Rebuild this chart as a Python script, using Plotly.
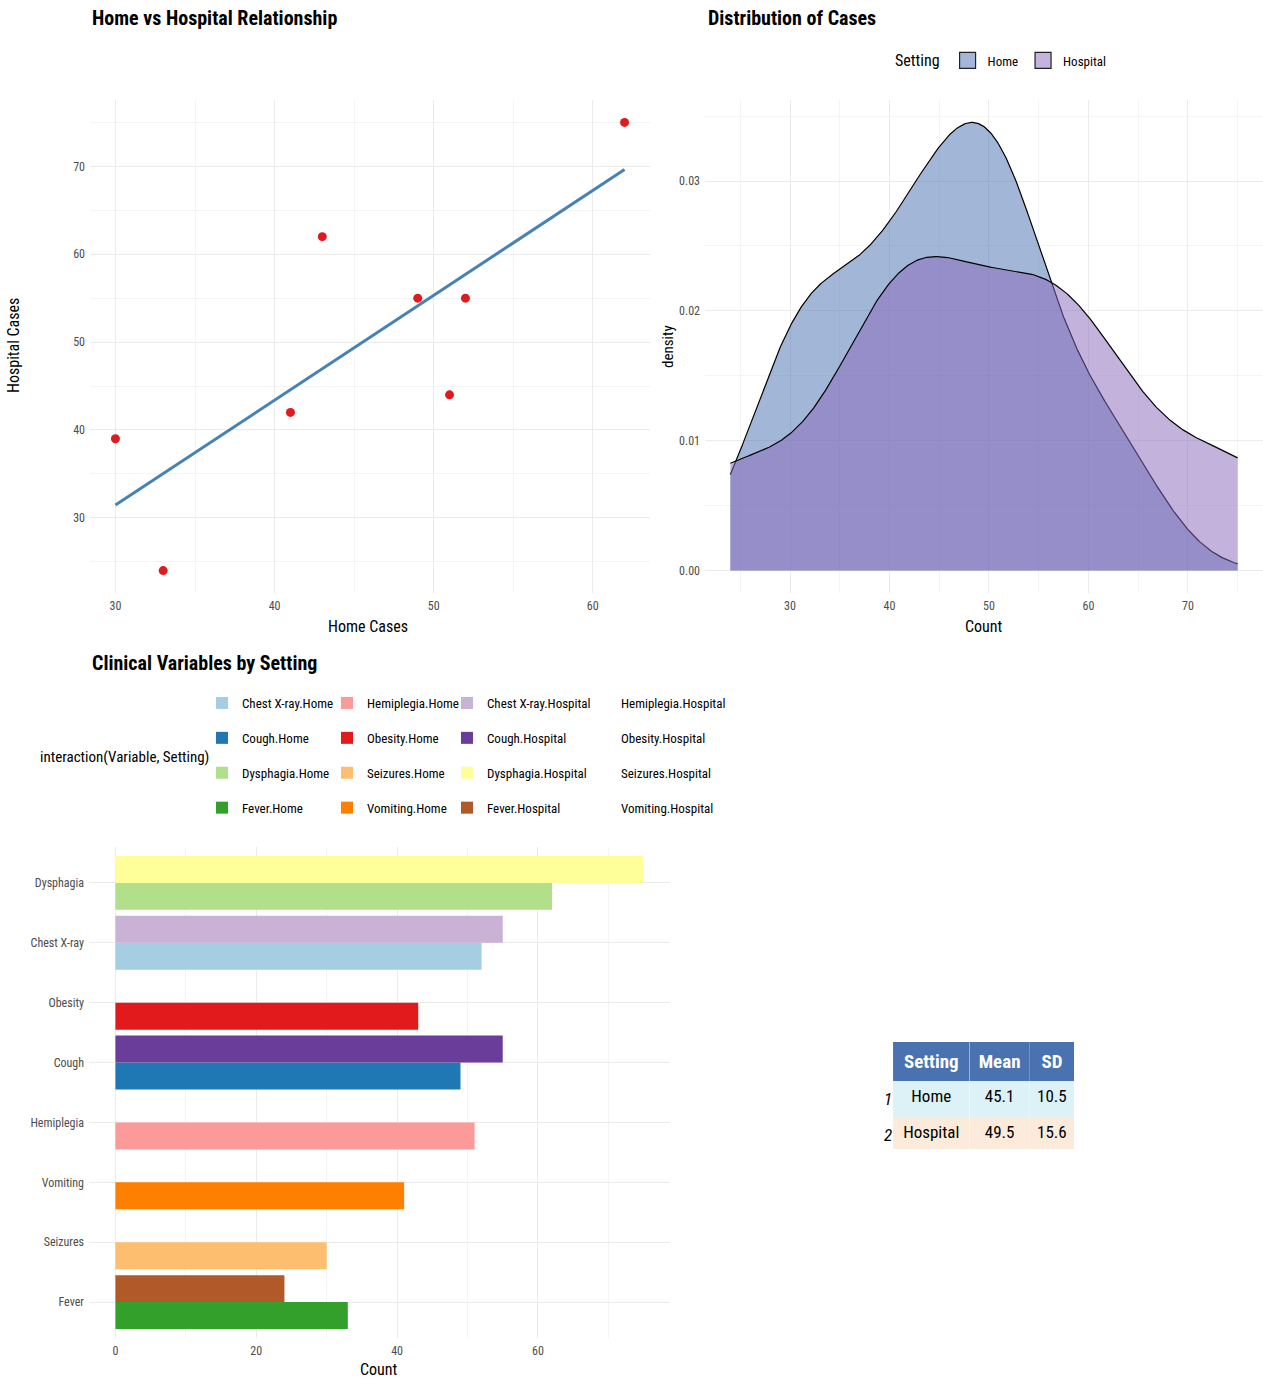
import numpy as np
import plotly.graph_objects as go

# ---------------- data ----------------
variables = ["Chest X-ray", "Cough", "Dysphagia", "Fever", "Hemiplegia", "Obesity", "Seizures", "Vomiting"]
home_counts = [52, 49, 62, 33, 51, 43, 30, 41]
hospital_counts = [55, 55, 75, 24, 44, 62, 39, 42]
settings = ["Home", "Hospital"]
bar_order = ["Fever", "Seizures", "Vomiting", "Hemiplegia", "Cough", "Obesity", "Chest X-ray", "Dysphagia"]
paired = ["#A6CEE3", "#1F78B4", "#B2DF8A", "#33A02C", "#FB9A99", "#E31A1C",
          "#FDBF6F", "#FF7F00", "#CAB2D6", "#6A3D9A", "#FFFF99", "#B15928"]
table_settings = ["Home", "Hospital"]
table_means = ["45.1", "49.5"]
table_sds = ["10.5", "15.6"]

W, H = 1263, 1380
FONT = "Liberation Sans Narrow, Arial Narrow, Roboto Condensed, Liberation Sans, Arial, sans-serif"
GRID = "#EBEBEB"
MINOR = "#F4F4F4"
TICK = "#4D4D4D"

def px_x(p):
    return p / W

def px_y(p):
    return 1 - p / H

fig = go.Figure()

# ---------------- scatter + regression ----------------
hx = np.array(home_counts, dtype=float)
hy = np.array(hospital_counts, dtype=float)
slope, intercept = np.polyfit(hx, hy, 1)
lx = np.array([hx.min(), hx.max()])
fig.add_trace(go.Scatter(x=lx, y=slope * lx + intercept, mode="lines",
                         line=dict(color="#4682B4", width=3), showlegend=False,
                         xaxis="x", yaxis="y"))
fig.add_trace(go.Scatter(x=hx, y=hy, mode="markers",
                         marker=dict(color="#E01B1E", size=9), showlegend=False,
                         xaxis="x", yaxis="y"))

# ---------------- density ----------------
def bw_nrd0(v):
    sd = np.std(v, ddof=1)
    q1, q3 = np.percentile(v, [25, 75])
    lo = min(sd, (q3 - q1) / 1.34)
    return 0.9 * lo * len(v) ** -0.2

allv = np.concatenate([hx, hy])
grid = np.linspace(allv.min(), allv.max(), 512)
dens_fill = {"Home": "rgba(70,110,178,0.5)", "Hospital": "rgba(136,102,184,0.5)"}
key_fill = {"Home": "#A3B6D9", "Hospital": "#C4B3DC"}
dmax = 0
for s, v in (("Home", hx), ("Hospital", hy)):
    bw = bw_nrd0(v)
    d = np.exp(-0.5 * ((grid[:, None] - v[None, :]) / bw) ** 2).sum(axis=1) / (len(v) * bw * np.sqrt(2 * np.pi))
    dmax = max(dmax, d.max())
    fig.add_trace(go.Scatter(x=grid, y=d, mode="lines", fill="tozeroy", name=s,
                             fillcolor=dens_fill[s], line=dict(color="black", width=1.2),
                             showlegend=False, legendgroup=s,
                             xaxis="x2", yaxis="y2"))
    # legend key (legend-only entry, no mark drawn)
    fig.add_trace(go.Scatter(x=[None], y=[None], mode="markers", name=s, legendgroup=s,
                             marker=dict(symbol="square", size=16, color=key_fill[s],
                                         line=dict(color="#222222", width=1.2)),
                             xaxis="x2", yaxis="y2", legend="legend"))

# ---------------- bars ----------------
legend_cols = ["legend2", "legend3", "legend4", "legend5"]
for si, s in enumerate(settings):
    vals = home_counts if s == "Home" else hospital_counts
    for vi, var in enumerate(variables):
        idx = si * 8 + vi
        col = paired[idx] if idx < len(paired) else "rgba(0,0,0,0)"
        fig.add_trace(go.Bar(x=[vals[vi]], y=[var], orientation="h", name=f"{var}.{s}",
                             marker=dict(color=col, line=dict(width=0)),
                             offsetgroup=s, legendgroup=f"g{idx}",
                             legend=legend_cols[idx // 4],
                             xaxis="x3", yaxis="y3"))

# ---------------- table ----------------
fig.add_trace(go.Table(
    domain=dict(x=[px_x(883), px_x(1075)], y=[px_y(1150), px_y(1042)]),
    columnwidth=[10, 76, 60, 44],
    header=dict(values=["", "<b>Setting</b>", "<b>Mean</b>", "<b>SD</b>"],
                fill_color=["white", "#4A71B0", "#4A71B0", "#4A71B0"],
                font=dict(family=FONT, size=19, color="white"),
                align="center", height=33, line=dict(color="rgba(0,0,0,0)", width=0)),
    cells=dict(values=[["<i>1</i>", "<i>2</i>"], table_settings, table_means, table_sds],
               fill_color=[["white", "white"], ["#DDF2F7", "#FCEBDA"], ["#DDF2F7", "#FCEBDA"], ["#DDF2F7", "#FCEBDA"]],
               font=dict(family=FONT, size=17, color="black"),
               align="center", height=31, line=dict(color="rgba(0,0,0,0)", width=0)),
))

# ---------------- layout ----------------
def axis(dom, rng, dtick, minor_dtick, **kw):
    a = dict(domain=dom, range=rng, showgrid=True, gridcolor=GRID, gridwidth=1.1,
             zeroline=False, showline=False, ticks="", ticklabelstandoff=4,
             tickfont=dict(family=FONT, size=12, color=TICK))
    if dtick is not None:
        a.update(dtick=dtick, tick0=0)
    if minor_dtick is not None:
        a["minor"] = dict(showgrid=True, gridcolor=MINOR, gridwidth=0.6, dtick=minor_dtick, tick0=0)
    a.update(kw)
    return a

yscat_dom = [px_y(593), px_y(100)]
fig.update_layout(
    width=W, height=H, margin=dict(l=0, r=0, t=0, b=0),
    paper_bgcolor="white", plot_bgcolor="white",
    font=dict(family=FONT, color="black"),
    barmode="group", bargap=0.1, bargroupgap=0,
    xaxis=axis([px_x(90), px_x(650)], [28.4, 63.6], 10, 5, anchor="y"),
    yaxis=axis(yscat_dom, [21.45, 77.55], 10, 5, anchor="x"),
    xaxis2=axis([px_x(705), px_x(1263)], [21.45, 77.55], 10, 5, anchor="y2"),
    yaxis2=axis(yscat_dom, [-0.05 * dmax, 1.05 * dmax], 0.01, 0.005, anchor="x2", tickformat=".2f"),
    xaxis3=axis([px_x(89), px_x(670)], [-3.75, 78.75], 20, 10, anchor="y3"),
    yaxis3=axis([px_y(1338), px_y(847)], [-0.6, 7.6], None, None, anchor="x3",
                categoryorder="array", categoryarray=bar_order, type="category"),
    legend=dict(orientation="h", x=px_x(893), y=px_y(61), xanchor="left", yanchor="middle",
                title=dict(text="Setting", side="left", font=dict(size=16)),
                font=dict(size=13), bgcolor="rgba(0,0,0,0)", itemwidth=30),
)
for i, name in enumerate(legend_cols):
    xs = [202, 327, 447, 581][i]
    fig.update_layout({name: dict(orientation="v", x=px_x(xs), y=px_y(688), xanchor="left", yanchor="top",
                                  font=dict(size=13), tracegroupgap=15, bgcolor="rgba(0,0,0,0)",
                                  traceorder="grouped")})

ann = [
    dict(text="<b>Home vs Hospital Relationship</b>", x=px_x(90), y=px_y(18), xanchor="left", font=dict(size=20)),
    dict(text="<b>Distribution of Cases</b>", x=px_x(706), y=px_y(18), xanchor="left", font=dict(size=20)),
    dict(text="<b>Clinical Variables by Setting</b>", x=px_x(90), y=px_y(663), xanchor="left", font=dict(size=20)),
    dict(text="Home Cases", x=px_x(368), y=px_y(627), xanchor="center", font=dict(size=16)),
    dict(text="Count", x=px_x(984), y=px_y(627), xanchor="center", font=dict(size=16)),
    dict(text="Count", x=px_x(379), y=px_y(1369), xanchor="center", font=dict(size=16)),
    dict(text="Hospital Cases", x=px_x(14), y=px_y(346), textangle=-90, xanchor="center", font=dict(size=16)),
    dict(text="density", x=px_x(668), y=px_y(346), textangle=-90, xanchor="center", font=dict(size=15)),
    dict(text="interaction(Variable, Setting)", x=px_x(38), y=px_y(757), xanchor="left", font=dict(size=15)),
]
for a in ann:
    a.update(xref="paper", yref="paper", yanchor="middle", showarrow=False)
    a["font"] = dict(family=FONT, color="black", **a["font"])
fig.update_layout(annotations=ann)

fig.write_html("out.html", config={"displayModeBar": False},
               post_script="document.body.style.margin='0';")
